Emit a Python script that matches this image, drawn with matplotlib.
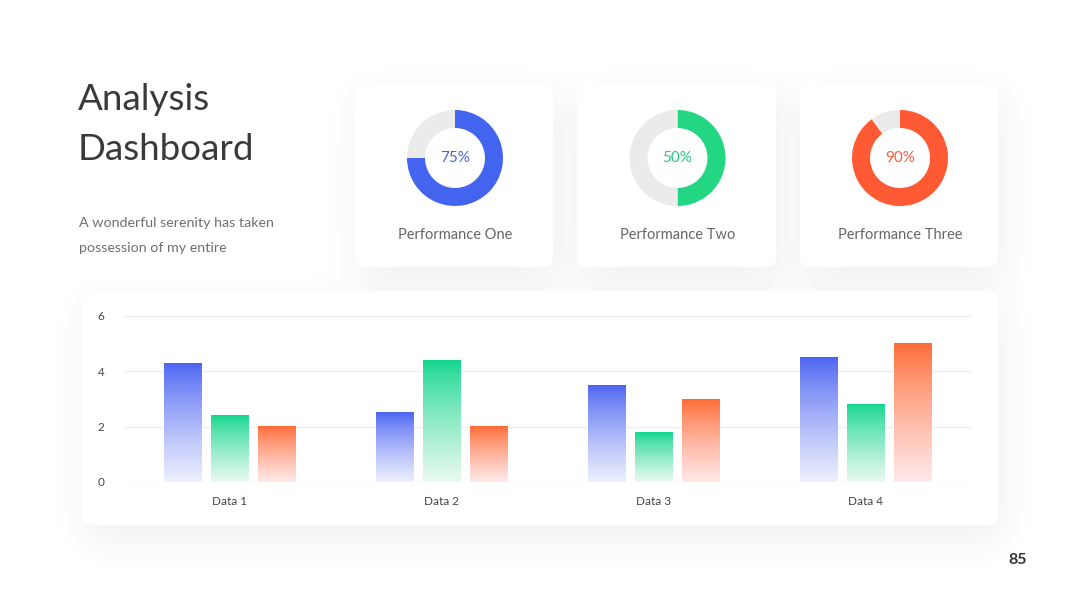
import numpy as np
import matplotlib.pyplot as plt
from matplotlib.patches import FancyBboxPatch
from matplotlib.colors import to_rgb

# data
categories = ["Data 1", "Data 2", "Data 3", "Data 4"]
series_blue = [4.3, 2.5, 3.5, 4.5]
series_green = [2.4, 4.4, 1.8, 2.8]
series_orange = [2.0, 2.0, 3.0, 5.0]
y_ticks = [0, 2, 4, 6]

perf_labels = ["Performance One", "Performance Two", "Performance Three"]
perf_values = [75, 50, 90]

W, H = 1080, 608
fig = plt.figure(figsize=(W / 100, H / 100), dpi=100)
fig.patch.set_facecolor("white")

FONT = ["Lato", "DejaVu Sans"]

# background axes in pixel coordinates
bg = fig.add_axes([0, 0, 1, 1])
bg.set_xlim(0, W)
bg.set_ylim(H, 0)
bg.axis("off")

card_x = [(355, 553), (577, 776), (800, 998)]
card_boxes = [(x0, 82, x1, 267) for x0, x1 in card_x] + [(82, 291, 998, 525)]

# soft drop shadow: blurred mask drawn as an image
mask = np.zeros((H, W))
for x0, y0, x1, y1 in card_boxes:
    mask[y0 + 14:y1 + 14, x0 + 4:x1 + 4] = 1.0
sig = 18
kx = np.arange(-3 * sig, 3 * sig + 1)
kern = np.exp(-kx ** 2 / (2 * sig ** 2))
kern /= kern.sum()
mask = np.apply_along_axis(lambda r: np.convolve(r, kern, mode="same"), 1, mask)
mask = np.apply_along_axis(lambda c: np.convolve(c, kern, mode="same"), 0, mask)
shadow = np.zeros((H, W, 4))
shadow[..., :3] = 0.25
shadow[..., 3] = np.clip(mask, 0, 1) * 0.075
bg.imshow(shadow, extent=(0, W, H, 0), origin="upper", zorder=1,
          interpolation="bilinear")
bg.set_aspect("auto")
bg.set_xlim(0, W)
bg.set_ylim(H, 0)

for x0, y0, x1, y1 in card_boxes:
    bg.add_patch(FancyBboxPatch(
        (x0, y0), x1 - x0, y1 - y0,
        boxstyle="round,pad=0,rounding_size=10",
        facecolor="white", edgecolor="none", zorder=2))

# titles
bg.text(78, 100, "Analysis", fontsize=26.5, color="#3a3a3a", family=FONT,
        va="center", ha="left", zorder=5)
bg.text(78, 149, "Dashboard", fontsize=26.5, color="#3a3a3a", family=FONT,
        va="center", ha="left", zorder=5)
bg.text(79, 223, "A wonderful serenity has taken", fontsize=10.3, color="#707070",
        family=FONT, va="center", ha="left", zorder=5)
bg.text(79, 248, "possession of my entire", fontsize=10.3, color="#707070",
        family=FONT, va="center", ha="left", zorder=5)
bg.text(1018, 560, "85", fontsize=11.5, color="#333333", family=FONT,
        weight="bold", va="center", ha="center", zorder=5)

# donuts
donut_colors = ["#4264ee", "#23d682", "#ff5a33"]
text_colors = ["#4a63d8", "#22cc80", "#f5603a"]
for (x0, x1), lab, val, col, tc in zip(card_x, perf_labels, perf_values,
                                       donut_colors, text_colors):
    cx = (x0 + x1) / 2 + 1
    cy = 158
    r = 50
    ax = fig.add_axes([(cx - r) / W, (H - cy - r) / H, 2 * r / W, 2 * r / H])
    ax.pie([val, 100 - val], colors=[col, "#ebebeb"], startangle=90,
           counterclock=False, radius=48 / r,
           wedgeprops=dict(width=18 / r, edgecolor="none"))
    ax.set_xlim(-1, 1)
    ax.set_ylim(-1, 1)
    ax.set_aspect("equal")
    ax.text(0, 0, f"{val}%", ha="center", va="center", fontsize=11,
            color=tc, family=FONT)
    bg.text(cx, 235, lab, ha="center", va="center", fontsize=10.5,
            color="#666666", family=FONT, zorder=5)

# bar chart
ax = fig.add_axes([124 / W, (H - 482) / H, 847 / W, 166 / H])
ax.set_facecolor("none")
ax.set_xlim(-0.5, 3.5)
ax.set_ylim(0, 6)
ax.set_yticks(y_ticks)
ax.set_yticklabels([str(t) for t in y_ticks])
ax.set_xticks(range(len(categories)))
ax.set_xticklabels(categories)
for s in ax.spines.values():
    s.set_visible(False)
ax.tick_params(length=0, labelsize=8.5, labelcolor="#444444")
ax.tick_params(axis="y", pad=14)
ax.tick_params(axis="x", pad=10)
for lbl in ax.get_xticklabels() + ax.get_yticklabels():
    lbl.set_family(FONT)
ax.grid(axis="y", color="#eeeeee", linewidth=1)
ax.set_axisbelow(True)

x = np.arange(len(categories))
bw = 0.175
off = 0.222
series = [
    (series_blue, "#4a63f2", "#eef0fd"),
    (series_green, "#12d68e", "#eafaf0"),
    (series_orange, "#ff6a33", "#ffe9ea"),
]
for k, (vals, top, bottom) in enumerate(series):
    bars = ax.bar(x + (k - 1) * off, vals, width=bw, color="none", zorder=3)
    t = np.array(to_rgb(top))
    b = np.array(to_rgb(bottom))
    f = np.linspace(0, 1, 100) ** 0.8
    colors = t[None, :] * (1 - f[:, None]) + b[None, :] * f[:, None]
    for rect in bars:
        x0 = rect.get_x()
        h = rect.get_height()
        ax.imshow(colors[:, None, :], extent=[x0, x0 + bw, 0, h],
                  aspect="auto", origin="upper", zorder=3,
                  interpolation="bilinear")
ax.set_xlim(-0.5, 3.5)
ax.set_ylim(0, 6)

fig.savefig("out.png", dpi=100, facecolor="white")
